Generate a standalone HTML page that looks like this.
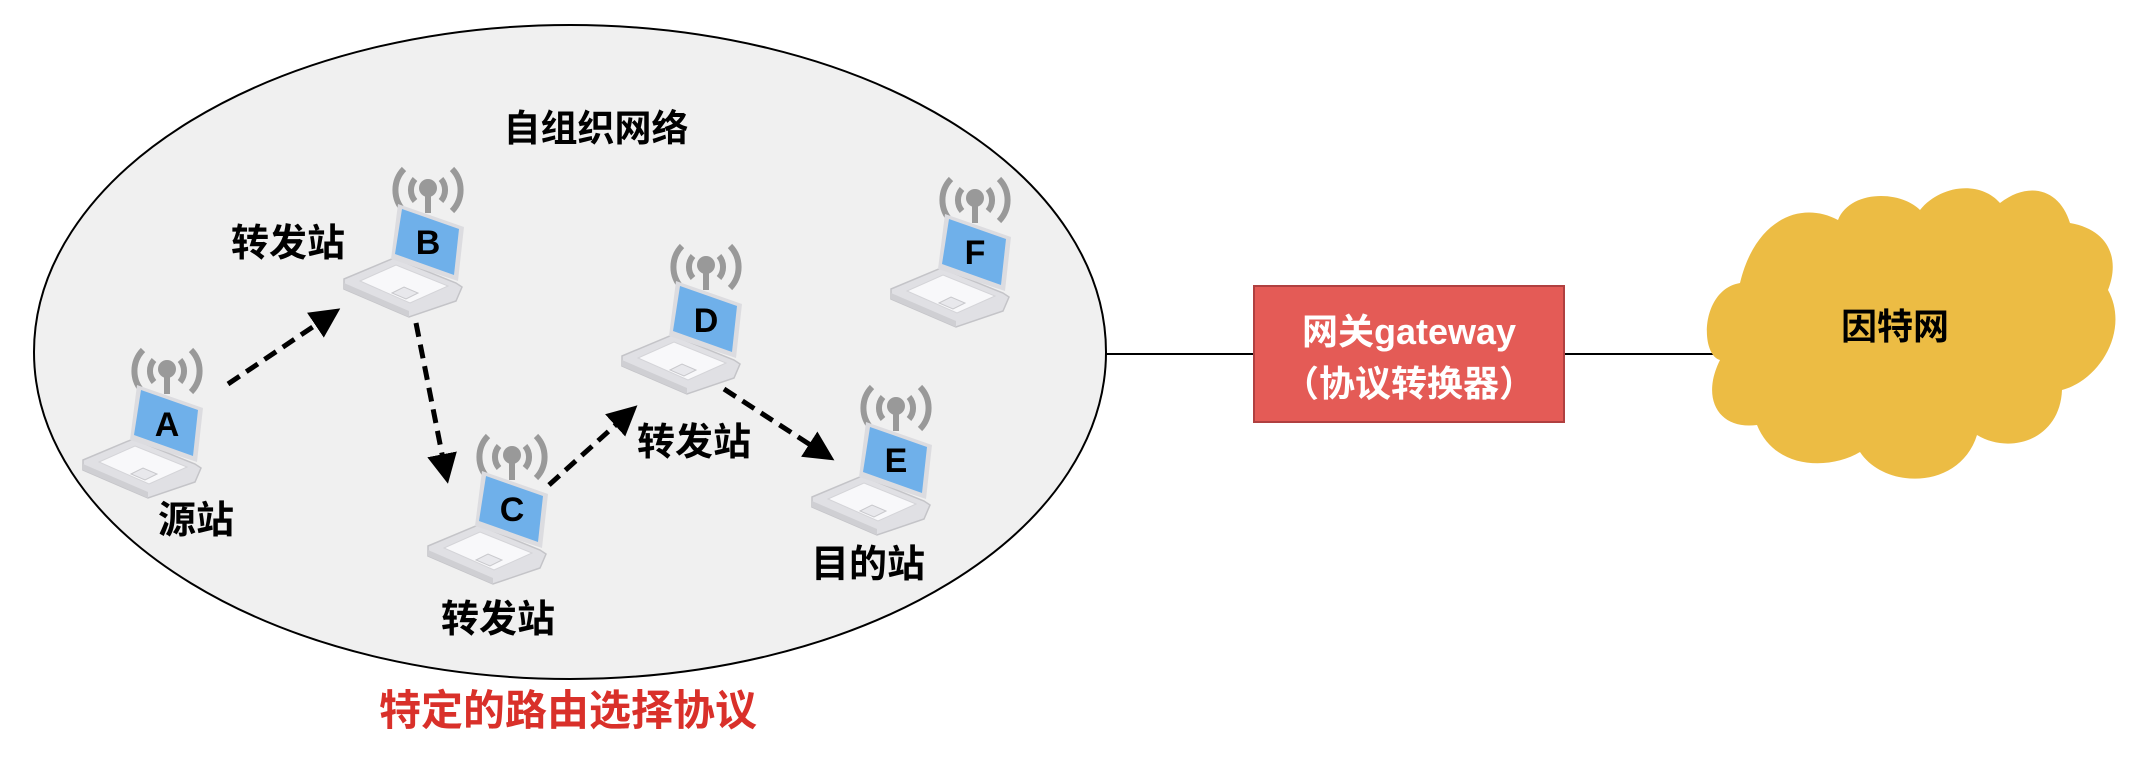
<!DOCTYPE html>
<html><head><meta charset="utf-8"><style>
html,body{margin:0;padding:0;background:#fff;}
svg{display:block}
text{font-family:"Liberation Sans","Noto Sans CJK SC",sans-serif;font-weight:bold}
</style></head><body>
<svg width="2156" height="768" viewBox="0 0 2156 768" xmlns="http://www.w3.org/2000/svg">
<defs>
<marker id="ah" markerWidth="6" markerHeight="6" refX="4" refY="3" orient="auto" markerUnits="strokeWidth">
<path d="M0,0 L6,3 L0,6 z" fill="#000"/></marker>
<g id="lap">
  <path d="M-13,-10 a17,17 0 0 0 0,22 M13,-10 a17,17 0 0 1 0,22" fill="none" stroke="#999" stroke-width="6"/>
  <path d="M-24,-20 a30,30 0 0 0 0,42 M24,-20 a30,30 0 0 1 0,42" fill="none" stroke="#999" stroke-width="6"/>
  <circle cx="0" cy="-1" r="9" fill="#999"/>
  <rect x="-3" y="0" width="6" height="24" fill="#999"/>
  <path d="M-84,90 L-34,69 L28,94 L34,98 L28,112 L-19,128 L-84,100 z" fill="#e0e0e4" stroke="#c4c4c8" stroke-width="1.5"/>
  <path d="M-84,100 L-19,128 L-19,122 L-84,94 z" fill="#cfcfd3"/>
  <path d="M-68,92 L-32,76 L20,97 L-18,114 z" fill="#f8f8fa" stroke="#d4d4d8"/>
  <path d="M-36,104 L-24,98 L-10,104 L-22,110 z" fill="#e8e8ec" stroke="#c8c8cc"/>
  <path d="M-30,15 L36,38 L30,92 L-37,70 z" fill="#dcdce0"/>
  <path d="M-26,20 L31,40 L26,86 L-33,65 z" fill="#6fb0ea"/>
</g>
</defs>
<ellipse cx="570" cy="352" rx="536" ry="327" fill="#f0f0f0" stroke="#000" stroke-width="2"/>
<line x1="1106" y1="354" x2="1254" y2="354" stroke="#000" stroke-width="2"/>
<line x1="1564" y1="354" x2="1720" y2="354" stroke="#000" stroke-width="2"/>
<rect x="1254" y="286" width="310" height="136" fill="#e45b56" stroke="#b04040" stroke-width="2"/>
<text x="1409" y="344" font-size="36" fill="#fff" text-anchor="middle">网关gateway</text>
<text x="1409" y="396" font-size="36" fill="#fff" text-anchor="middle">（协议转换器）</text>
<path d="M1740,283 C1700,290 1700,355 1720,360 C1700,400 1720,430 1757,425 C1775,470 1830,470 1860,452 C1885,490 1960,490 1977,435 C2010,455 2060,440 2062,390 C2100,380 2130,330 2108,290 C2120,260 2110,230 2070,223 C2060,190 2030,180 2000,203 C1980,180 1940,185 1920,210 C1900,190 1850,190 1838,220 C1800,200 1755,220 1740,283 z" fill="#ecbc44"/>
<text x="1895" y="339" font-size="36" fill="#000" text-anchor="middle">因特网</text>
<text x="596" y="141" font-size="37" text-anchor="middle">自组织网络</text>
<use href="#lap" x="167" y="370"/>
<use href="#lap" x="428" y="189"/>
<use href="#lap" x="975" y="199"/>
<use href="#lap" x="706" y="266"/>
<use href="#lap" x="512" y="456"/>
<use href="#lap" x="896" y="407"/>
<g font-size="34" text-anchor="middle">
<text x="167" y="436">A</text><text x="428" y="254">B</text><text x="975" y="264">F</text>
<text x="706" y="332">D</text><text x="512" y="521">C</text><text x="896" y="472">E</text>
</g>
<g stroke="#000" stroke-width="5" stroke-dasharray="14,8" fill="none" marker-end="url(#ah)">
<line x1="228" y1="384" x2="332" y2="314"/>
<line x1="416" y1="323" x2="446" y2="474"/>
<line x1="549" y1="485" x2="630" y2="412"/>
<line x1="724" y1="389" x2="826" y2="455"/>
</g>
<g font-size="38" text-anchor="middle">
<text x="288" y="256">转发站</text>
<text x="196" y="533">源站</text>
<text x="498" y="632">转发站</text>
<text x="694" y="455">转发站</text>
<text x="868" y="577">目的站</text>
</g>
<text x="568" y="725" font-size="42" fill="#d9302a" text-anchor="middle">特定的路由选择协议</text>
</svg>
</body></html>
